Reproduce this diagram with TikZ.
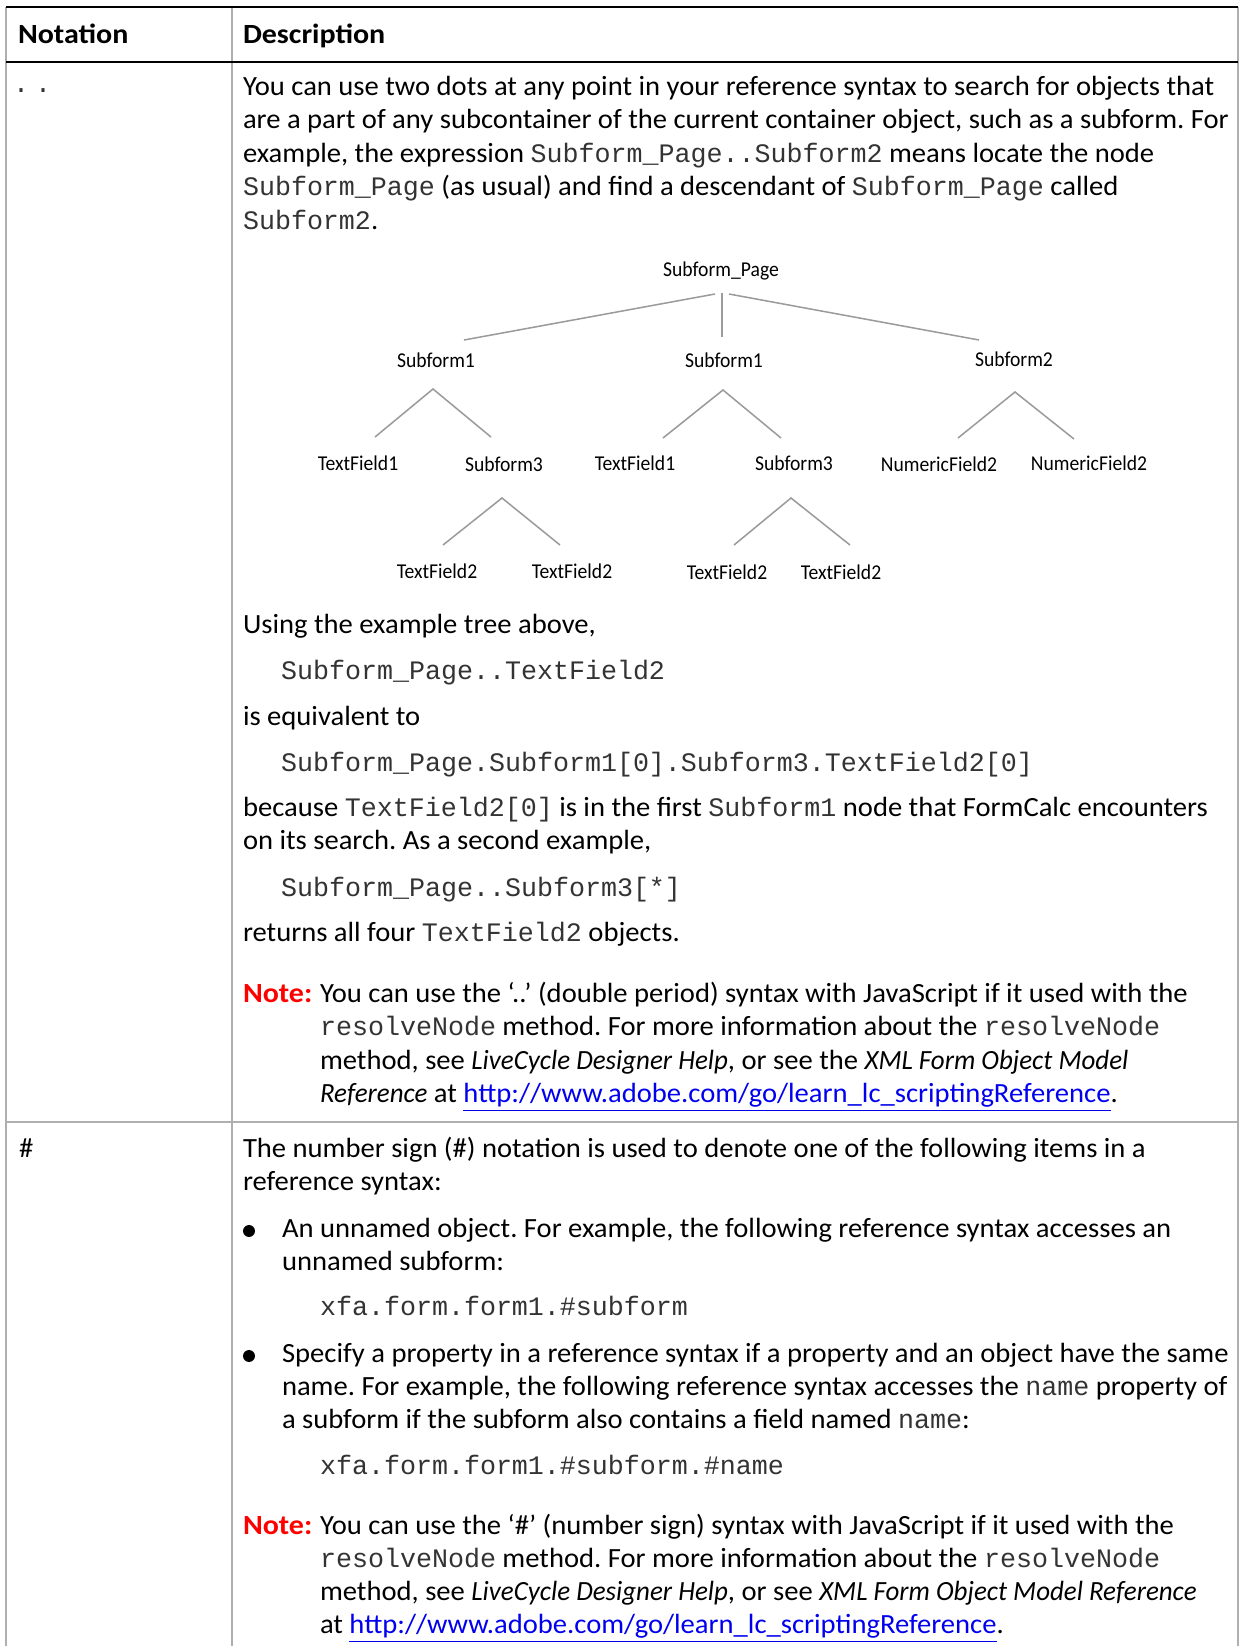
\documentclass[tikz,border=0pt]{standalone}
\usepackage{fontspec}
\setmainfont{Carlito}[UprightFeatures={FakeStretch=1.03},BoldFeatures={FakeStretch=1.08},ItalicFeatures={FakeStretch=0.97}]
\setmonofont{Liberation Mono}
\newfontfamily\treefont{Carlito}[FakeStretch=0.93]
\definecolor{linkblue}{RGB}{0,0,238}
\definecolor{notered}{RGB}{255,0,0}
\definecolor{treegray}{RGB}{155,155,155}
\definecolor{rulegray}{RGB}{175,175,175}
\newcommand{\cde}[1]{{\fontsize{9.6}{12}\ttfamily\color{black!80}#1}}
\newcommand{\lnk}[1]{\textcolor{linkblue}{\underline{#1}}}
\frenchspacing
\begin{document}
\begin{tikzpicture}[x=0.36pt,y=-0.36pt,
  every node/.style={inner sep=0pt,outer sep=0pt},
  txt/.style={anchor=base west,font=\fontsize{10}{12}\selectfont},
  hd/.style={anchor=base west,font=\fontsize{10}{12}\selectfont\bfseries},
  code/.style={anchor=base west,font=\fontsize{9.6}{12}\ttfamily,text=black!80},
  note/.style={anchor=base west,font=\fontsize{10}{12}\selectfont\bfseries,text=notered},
  tree/.style={anchor=base,font=\fontsize{7.6}{10}\treefont},
  branch/.style={draw=treegray,line width=0.55pt},
  thickrule/.style={draw=black,line width=0.65pt},
  thinrule/.style={draw=rulegray,line width=0.4pt},
  bul/.style={circle,fill=black,minimum size=4.3pt}]
\useasboundingbox (0,0) rectangle (1241,1646);
% table rules
\coordinate (tl) at (6,7);
\coordinate (tr) at (1238,7);
\coordinate (hl) at (6,62);
\coordinate (hr) at (1238,62);
\coordinate (ctop) at (232,7);
\coordinate (cbot) at (232,1646);
\coordinate (lbot) at (6,1646);
\coordinate (rbot) at (1238,1646);
\coordinate (sl) at (6,1122);
\coordinate (sr) at (1238,1122);
\draw[thinrule] (tl) -- (lbot);
\draw[thinrule] (ctop) -- (cbot);
\draw[thinrule] (tr) -- (rbot);
\draw[thinrule,line width=0.55pt] (sl) -- (sr);
\draw[thickrule] (tl) -- (tr);
\draw[thickrule] (hl) -- (hr);
% header
\node[hd] (hnot) at (18,43) {Notation};
\node[hd] (hdes) at (243,43) {Description};
% row 1
\node[code] (dots) at (13,92) {.\kern2.2pt.};
\node[txt] (a1) at (243,95.5) {You can use two dots at any point in your reference syntax to search for objects that};
\node[txt] (a2) at (243,128.9) {are a part of any subcontainer of the current container object, such as a subform. For};
\node[txt] (a3) at (243,162.3) {example, the expression \cde{Subform\_Page..Subform2} means locate the node};
\node[txt] (a4) at (243,195.7) {\cde{Subform\_Page} (as usual) and find a descendant of \cde{Subform\_Page} called};
\node[txt] (a5) at (243,229.1) {\cde{Subform2}.};
% tree
\node[tree] (root) at (721,276) {Subform\_Page};
\node[tree] (s1a) at (436,367) {Subform1};
\node[tree] (s1b) at (724,367) {Subform1};
\node[tree] (s2) at (1014,366) {Subform2};
\node[tree] (tf1a) at (358,470) {TextField1};
\node[tree] (s3a) at (504,471) {Subform3};
\node[tree] (tf1b) at (635,470) {TextField1};
\node[tree] (s3b) at (794,470) {Subform3};
\node[tree] (nf2a) at (939,471) {NumericField2};
\node[tree] (nf2b) at (1089,470) {NumericField2};
\node[tree] (tf2a) at (437,578) {TextField2};
\node[tree] (tf2b) at (572,578) {TextField2};
\node[tree] (tf2c) at (727,579) {TextField2};
\node[tree] (tf2d) at (841,579) {TextField2};
% branch coordinates
\coordinate (r1) at (715,294);
\coordinate (r2) at (722,293);
\coordinate (r3) at (729,294);
\coordinate (e1) at (464,340);
\coordinate (e2) at (722,337);
\coordinate (e3) at (979,340);
\coordinate (ap1) at (433,389);
\coordinate (l1a) at (375,437);
\coordinate (l1b) at (491,437);
\coordinate (ap2) at (723,390);
\coordinate (l2a) at (663,438);
\coordinate (l2b) at (781,438);
\coordinate (ap3) at (1015,392);
\coordinate (l3a) at (958,438);
\coordinate (l3b) at (1074,439);
\coordinate (ap4) at (502,498);
\coordinate (l4a) at (443,545);
\coordinate (l4b) at (560,545);
\coordinate (ap5) at (791,498);
\coordinate (l5a) at (734,545);
\coordinate (l5b) at (850,545);
\draw[branch] (r1) -- (e1);
\draw[branch] (r2) -- (e2);
\draw[branch] (r3) -- (e3);
\draw[branch] (l1a) -- (ap1) -- (l1b);
\draw[branch] (l2a) -- (ap2) -- (l2b);
\draw[branch] (l3a) -- (ap3) -- (l3b);
\draw[branch] (l4a) -- (ap4) -- (l4b);
\draw[branch] (l5a) -- (ap5) -- (l5b);
% after tree
\node[txt] (b1) at (243,633) {Using the example tree above,};
\node[code] (b2) at (281,679) {Subform\_Page..TextField2};
\node[txt] (b3) at (243,725) {is equivalent to};
\node[code] (b4) at (281,771) {Subform\_Page.Subform1[0].Subform3.TextField2[0]};
\node[txt] (b5) at (243,816) {because \cde{TextField2[0]} is in the first \cde{Subform1} node that FormCalc encounters};
\node[txt] (b6) at (243,849) {on its search. As a second example,};
\node[code] (b7) at (281,896) {Subform\_Page..Subform3[*]};
\node[txt] (b8) at (243,941) {returns all four \cde{TextField2} objects.};
% note 1
\node[note] (n1) at (243,1002) {Note:};
\node[txt] (n1a) at (320,1002) {You can use the ‘..’ (double period) syntax with JavaScript if it used with the};
\node[txt] (n1b) at (320,1035.5) {\cde{resolveNode} method. For more information about the \cde{resolveNode}};
\node[txt] (n1c) at (320,1069) {method, see \textit{LiveCycle Designer Help}, or see the \textit{XML Form Object Model}};
\node[txt] (n1d) at (320,1102) {\textit{Reference} at \lnk{http://www.adobe.com/go/learn\_lc\_scriptingReference}.};
% row 2
\node[txt] (hash) at (19,1157) {\#};
\node[txt] (c1) at (243,1157) {The number sign (\#) notation is used to denote one of the following items in a};
\node[txt] (c2) at (243,1190) {reference syntax:};
\node[bul] (bu1) at (249,1231) {};
\node[txt] (c3) at (282,1237) {An unnamed object. For example, the following reference syntax accesses an};
\node[txt] (c4) at (282,1270) {unnamed subform:};
\node[code] (c5) at (320,1315) {xfa.form.form1.\#subform};
\node[bul] (bu2) at (249,1356) {};
\node[txt] (c6) at (282,1362) {Specify a property in a reference syntax if a property and an object have the same};
\node[txt] (c7) at (282,1395) {name. For example, the following reference syntax accesses the \cde{name} property of};
\node[txt] (c8) at (282,1428) {a subform if the subform also contains a field named \cde{name}:};
\node[code] (c9) at (320,1474) {xfa.form.form1.\#subform.\#name};
% note 2
\node[note] (n2) at (243,1534) {Note:};
\node[txt] (n2a) at (320,1534) {You can use the ‘\#’ (number sign) syntax with JavaScript if it used with the};
\node[txt] (n2b) at (320,1567) {\cde{resolveNode} method. For more information about the \cde{resolveNode}};
\node[txt] (n2c) at (320,1600) {method, see \textit{LiveCycle Designer Help}, or see \textit{XML Form Object Model Reference}};
\node[txt] (n2d) at (320,1633) {at \lnk{http://www.adobe.com/go/learn\_lc\_scriptingReference}.};
\end{tikzpicture}
\end{document}
